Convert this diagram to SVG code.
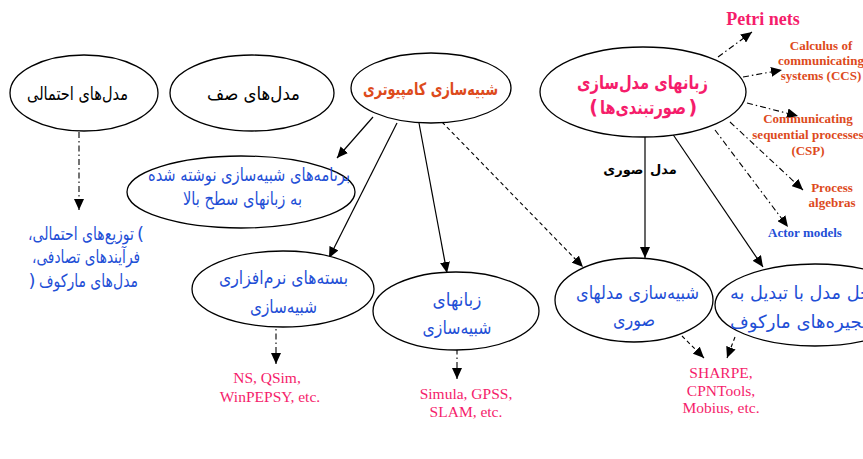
<svg xmlns="http://www.w3.org/2000/svg" width="863" height="459" viewBox="0 0 863 459">
<style>
.e{fill:#fff;stroke:#000;stroke-width:1.3}
.fa{font-family:"DejaVu Sans",sans-serif;text-anchor:middle;font-size:18px}
.fb{font-family:"DejaVu Sans",sans-serif;font-size:18px}
.en{font-family:"Liberation Serif",serif;text-anchor:middle;font-size:15.5px}
.enb{font-family:"Liberation Serif",serif;text-anchor:middle;font-size:13px;font-weight:bold}
.blue{fill:#1f4fd6}
.pink{fill:#f51d6b}
.orange{fill:#dd4a1c}
.s{stroke:#000;stroke-width:1.2;fill:none;marker-end:url(#ah)}
.d{stroke:#000;stroke-width:1.1;fill:none;stroke-dasharray:4 3;marker-end:url(#ah)}
.dd{stroke:#000;stroke-width:1.1;fill:none;stroke-dasharray:6 3 1.5 3;marker-end:url(#ah)}
</style>
<defs>
<marker id="ah" markerUnits="userSpaceOnUse" markerWidth="12" markerHeight="10" refX="11" refY="5" orient="auto">
<path d="M0,0 L11,5 L0,10 Z" fill="#000"/>
</marker>
</defs>
<rect width="863" height="459" fill="#fff"/>

<g id="connectors">
<line class="dd" x1="79" y1="132" x2="79" y2="210"/>
<line class="s" x1="373" y1="117" x2="337" y2="158"/>
<line class="s" x1="397" y1="123" x2="329" y2="258"/>
<line class="s" x1="419" y1="123" x2="447" y2="273"/>
<line class="d" x1="442" y1="122" x2="583" y2="267"/>
<line class="s" x1="645" y1="137" x2="645" y2="258"/>
<line class="s" x1="672" y1="133" x2="763" y2="267"/>
<line class="dd" x1="718" y1="57" x2="752" y2="32"/>
<line class="dd" x1="743" y1="77" x2="782" y2="70"/>
<line class="dd" x1="747" y1="103" x2="798" y2="116"/>
<line class="dd" x1="730" y1="122" x2="803" y2="190"/>
<line class="dd" x1="715" y1="130" x2="788" y2="227"/>
<line class="dd" x1="276" y1="320" x2="276" y2="364"/>
<line class="dd" x1="457" y1="335" x2="457" y2="379"/>
<line class="d" x1="682" y1="336" x2="704" y2="358"/>
<line class="d" x1="735" y1="337" x2="727" y2="358"/>
<text x="640" y="174" style="font-family:'DejaVu Sans',sans-serif;font-size:13px;font-weight:bold;text-anchor:middle;word-spacing:2px">&#x200F;مدل صوری&#x200F;</text>
</g>

<g id="n1">
<ellipse class="e" cx="84" cy="93" rx="74" ry="38"/>
<text class="fa" x="77.5" y="100" textLength="101" lengthAdjust="spacingAndGlyphs">&#x200F;مدل&#x200C;های احتمالی&#x200F;</text>
</g>
<g id="n2">
<ellipse class="e" cx="252" cy="93" rx="82" ry="38"/>
<text class="fa" x="253.5" y="100" textLength="93" lengthAdjust="spacingAndGlyphs">&#x200F;مدل&#x200C;های صف&#x200F;</text>
</g>
<g id="n3">
<ellipse class="e" cx="431" cy="88" rx="80" ry="35"/>
<text class="fa orange" x="430.5" y="95" style="font-size:17px;font-weight:bold" textLength="135" lengthAdjust="spacingAndGlyphs">&#x200F;شبیه&#x200C;سازی کامپیوتری&#x200F;</text>
</g>
<g id="n4">
<ellipse class="e" cx="643" cy="92" rx="103" ry="45"/>
<text class="fa pink" x="642.5" y="89" style="font-size:19px;font-weight:bold" textLength="131" lengthAdjust="spacingAndGlyphs">&#x200F;زبانهای مدل&#x200C;سازی&#x200F;</text>
<text class="fb pink" x="598" y="114" style="font-size:19px;font-weight:bold;text-anchor:end">(</text>
<text class="fa pink" x="643" y="114" style="font-size:19px;font-weight:bold" textLength="86" lengthAdjust="spacingAndGlyphs">&#x200F;صورتبندی&#x200C;ها&#x200F;</text>
<text class="fb pink" x="688.5" y="114" style="font-size:19px;font-weight:bold;text-anchor:start">)</text>
</g>
<g id="n5">
<ellipse class="e" cx="241" cy="192" rx="114" ry="36"/>
<text class="fa blue" x="249" y="181" textLength="202" lengthAdjust="spacingAndGlyphs">&#x200F;برنامه&#x200C;های شبیه&#x200C;سازی نوشته شده&#x200F;</text>
<text class="fa blue" x="242.5" y="205" textLength="119" lengthAdjust="spacingAndGlyphs">&#x200F;به زبانهای سطح بالا&#x200F;</text>
</g>
<g id="n6">
<ellipse class="e" cx="283" cy="289" rx="91" ry="38"/>
<text class="fa blue" x="283.5" y="284" textLength="129" lengthAdjust="spacingAndGlyphs">&#x200F;بسته&#x200C;های نرم&#x200C;افزاری&#x200F;</text>
<text class="fa blue" x="283.5" y="313" textLength="67" lengthAdjust="spacingAndGlyphs">&#x200F;شبیه&#x200C;سازی&#x200F;</text>
</g>
<g id="n7">
<ellipse class="e" cx="456" cy="311" rx="83" ry="39"/>
<text class="fa blue" x="457" y="306" textLength="49" lengthAdjust="spacingAndGlyphs">&#x200F;زبانهای&#x200F;</text>
<text class="fa blue" x="457" y="334" textLength="69" lengthAdjust="spacingAndGlyphs">&#x200F;شبیه&#x200C;سازی&#x200F;</text>
</g>
<g id="n8">
<ellipse class="e" cx="634" cy="300" rx="79" ry="42"/>
<text class="fa blue" x="637.5" y="299" textLength="123" lengthAdjust="spacingAndGlyphs">&#x200F;شبیه&#x200C;سازی مدلهای&#x200F;</text>
<text class="fa blue" x="634" y="326" textLength="42" lengthAdjust="spacingAndGlyphs">&#x200F;صوری&#x200F;</text>
</g>
<g id="n9">
<ellipse class="e" cx="815" cy="305" rx="100" ry="41"/>
<text class="fa blue" x="800.5" y="299" textLength="141" lengthAdjust="spacingAndGlyphs">&#x200F;حل مدل با تبدیل به&#x200F;</text>
<text class="fa blue" x="803" y="328" textLength="146" lengthAdjust="spacingAndGlyphs">&#x200F;زنجیره&#x200C;های مارکوف&#x200F;</text>
</g>

<g id="prob-list">
<text class="fb blue" x="144" y="240" style="text-anchor:end">(</text>
<text class="fa blue" x="81" y="240" textLength="106" lengthAdjust="spacingAndGlyphs">&#x200F;توزیع&#x200C;های احتمالی،&#x200F;</text>
<text class="fa blue" x="86" y="263" textLength="108" lengthAdjust="spacingAndGlyphs">&#x200F;فرآیندهای تصادفی،&#x200F;</text>
<text class="fb blue" x="28.5" y="287" style="text-anchor:start">)</text>
<text class="fa blue" x="88.5" y="287" textLength="99" lengthAdjust="spacingAndGlyphs">&#x200F;مدل&#x200C;های مارکوف&#x200F;</text>
</g>

<g id="tools-ns">
<text class="en pink" x="267" y="383">NS, QSim,</text>
<text class="en pink" x="270" y="402">WinPEPSY, etc.</text>
</g>
<g id="tools-simula">
<text class="en pink" x="466" y="399">Simula, GPSS,</text>
<text class="en pink" x="466" y="417">SLAM, etc.</text>
</g>
<g id="tools-sharpe">
<text class="en pink" x="721" y="378">SHARPE,</text>
<text class="en pink" x="721" y="396">CPNTools,</text>
<text class="en pink" x="721" y="413">Mobius, etc.</text>
</g>

<g id="petri">
<text class="enb pink" x="763" y="25" style="font-size:18px">Petri nets</text>
</g>
<g id="ccs">
<text class="enb orange" x="821" y="50">Calculus of</text>
<text class="enb orange" x="821" y="65">communicating</text>
<text class="enb orange" x="821" y="80">systems (CCS)</text>
</g>
<g id="csp">
<text class="enb orange" x="808" y="123">Communicating</text>
<text class="enb orange" x="808" y="139">sequential processes</text>
<text class="enb orange" x="808" y="155">(CSP)</text>
</g>
<g id="process-algebras">
<text class="enb orange" x="832" y="192">Process</text>
<text class="enb orange" x="832" y="207">algebras</text>
</g>
<g id="actor">
<text class="enb blue" x="805" y="237">Actor models</text>
</g>
</svg>
